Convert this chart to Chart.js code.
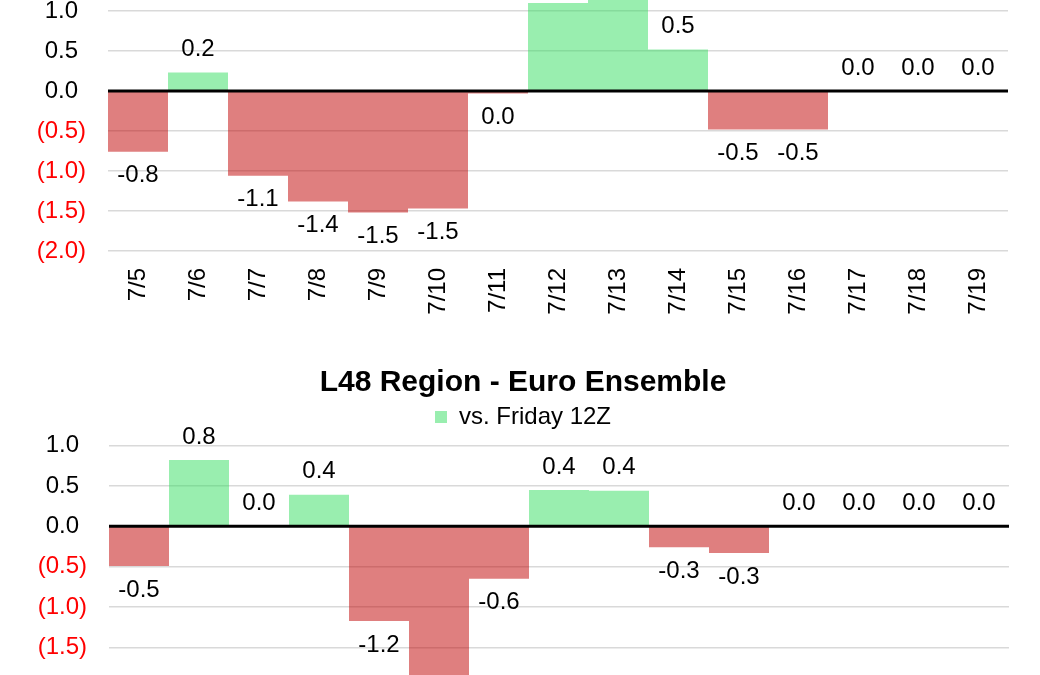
<!DOCTYPE html>
<html>
<head>
<meta charset="utf-8">
<script src="https://cdn.jsdelivr.net/npm/chart.js@4.4.1/dist/chart.umd.min.js"></script>
<style>
  html, body { margin: 0; padding: 0; background: #fff; overflow: hidden; }
  #page { position: relative; width: 1040px; height: 675px; overflow: hidden; background: #fff; }
  .wrap { position: absolute; left: 0; width: 1040px; }
  #wrapTop { top: -69px; height: 390px; }
  #wrapBottom { top: 360px; height: 398px; }
</style>
</head>
<body>
<div id="page">
  <div class="wrap" id="wrapTop"><canvas id="chartTop" width="1040" height="390"></canvas></div>
  <div class="wrap" id="wrapBottom"><canvas id="chartBottom" width="1040" height="398"></canvas></div>
</div>
<script>
// ---- data ----
const categories = ['7/5', '7/6', '7/7', '7/8', '7/9', '7/10', '7/11', '7/12', '7/13', '7/14', '7/15', '7/16', '7/17', '7/18', '7/19'];
const topValues = [-0.76, 0.23, -1.06, -1.38, -1.52, -1.47, -0.03, 1.1, 1.3, 0.52, -0.48, -0.48, 0, 0, 0];
const euroValues = [-0.49, 0.82, 0, 0.39, -1.17, -1.9, -0.649, 0.449, 0.44, -0.26, -0.33, 0, 0, 0, 0];
const topYTicks = [-2, -1.5, -1, -0.5, 0, 0.5, 1, 1.5];
const euroYTicks = [-2, -1.5, -1, -0.5, 0, 0.5, 1];
const seriesName = 'vs. Friday 12Z';
const euroTitle = 'L48 Region - Euro Ensemble';

// ---- styles ----
const FONT = '"Liberation Sans", Arial, sans-serif';
const RED = 'rgba(192, 0, 0, 0.5)';
const GREEN = 'rgba(51, 221, 95, 0.5)';
const GREEN_SOLID = '#99eeaf';
Chart.defaults.font.family = FONT;
Chart.defaults.color = '#000';

function fmtLabel(v) {
  const r = Math.round(v * 10) / 10;
  if (Math.abs(r) < 0.05) return '0.0';
  return r.toFixed(1);
}
function fmtTick(v) {
  const r = Math.round(v * 10) / 10;
  if (r < 0) return '(' + Math.abs(r).toFixed(1) + ')';
  return r.toFixed(1) + '\u2004';
}

const zeroLine = {
  id: 'zeroLine',
  afterDatasetsDraw(chart) {
    const {ctx, chartArea} = chart;
    const y = chart.scales.y.getPixelForValue(0);
    ctx.save();
    ctx.strokeStyle = '#000';
    ctx.lineWidth = 3;
    ctx.beginPath();
    ctx.moveTo(chartArea.left, y);
    ctx.lineTo(chartArea.right, y);
    ctx.stroke();
    ctx.restore();
  }
};

const barLabels = {
  id: 'barLabels',
  afterDatasetsDraw(chart) {
    const ctx = chart.ctx;
    const meta = chart.getDatasetMeta(0);
    const data = chart.data.datasets[0].data;
    ctx.save();
    ctx.font = '24px ' + FONT;
    ctx.fillStyle = '#000';
    ctx.textAlign = 'center';
    ctx.textBaseline = 'middle';
    meta.data.forEach((bar, i) => {
      const v = data[i];
      const y = v < 0 ? bar.y + 24 : bar.y - 23;
      ctx.fillText(fmtLabel(v), bar.x, y);
    });
    ctx.restore();
  }
};

function makeChart(id, values, opts) {
  return new Chart(document.getElementById(id), {
    type: 'bar',
    data: {
      labels: categories,
      datasets: [{
        label: seriesName,
        data: values,
        backgroundColor: c => (c.raw < 0 ? RED : GREEN),
        borderWidth: 0,
        inflateAmount: 0,
        barPercentage: 1,
        categoryPercentage: 1
      }]
    },
    options: {
      responsive: false,
      animation: false,
      devicePixelRatio: 1,
      layout: { padding: opts.padding },
      plugins: {
        title: opts.title ? {
          display: true,
          text: opts.title,
          color: '#000',
          font: { size: 30, weight: 'bold' },
          padding: { top: 5, bottom: 0 }
        } : { display: false },
        legend: opts.legend ? {
          display: true,
          labels: {
            font: { size: 24 },
            color: '#000',
            boxWidth: 12,
            boxHeight: 12,
            padding: 4,
            generateLabels: () => [{
              text: seriesName, fillStyle: GREEN_SOLID, strokeStyle: GREEN_SOLID,
              lineWidth: 0, hidden: false, datasetIndex: 0
            }]
          }
        } : { display: false },
        tooltip: { enabled: false }
      },
      scales: {
        x: {
          grid: { display: false, drawTicks: false },
          border: { display: false },
          ticks: {
            font: { size: 24 }, color: '#000',
            minRotation: 90, maxRotation: 90, autoSkip: false, padding: 17
          },
          afterFit: s => { s.height = 70; }
        },
        y: {
          min: opts.min, max: opts.max,
          border: { display: false },
          grid: {
            drawTicks: false,
            lineWidth: 1.5,
            color: c => (c.tick && Math.abs(c.tick.value) < 1e-9 ? 'rgba(0,0,0,0)' : '#d9d9d9')
          },
          ticks: {
            padding: 22,
            font: { size: 24 },
            color: c => (c.tick && c.tick.value < -1e-9 ? '#ff0000' : '#000'),
            callback: v => fmtTick(v)
          },
          afterBuildTicks: s => {
            s.ticks = opts.ticks.map(v => ({ value: v }));
          },
          afterFit: s => { s.width = 72; }
        }
      }
    },
    plugins: [zeroLine, barLabels]
  });
}

makeChart('chartTop', topValues, {
  min: -2, max: 1.5, ticks: topYTicks,
  padding: { top: 40, left: 36, right: 32, bottom: 0 }
});
makeChart('chartBottom', euroValues, {
  min: -2, max: 1.08, ticks: euroYTicks,
  title: euroTitle, legend: true,
  padding: { top: 0, left: 37, right: 31, bottom: 0 }
});
</script>
</body>
</html>
